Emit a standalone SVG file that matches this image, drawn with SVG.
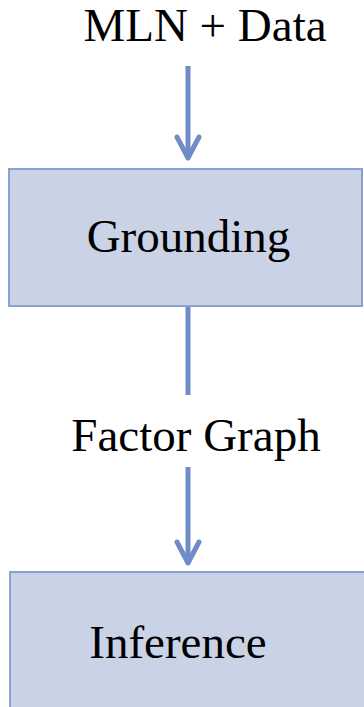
<svg xmlns="http://www.w3.org/2000/svg" width="364" height="707" viewBox="0 0 364 707">
  <style>
    .box { fill: #CAD2E6; stroke: #8AA2D2; stroke-width: 2; }
    .lbl { font-family: "Liberation Serif", "Times New Roman", serif; font-size: 47px; fill: #000; text-anchor: middle; }
    .conn { stroke: #6F8CC6; stroke-width: 5; fill: none; }
    .head { stroke: #6F8CC6; stroke-width: 5; fill: none; stroke-linecap: round; stroke-linejoin: round; }
  </style>
  <rect width="364" height="707" fill="#FFFFFF"/>
  <g id="connectors">
    <line class="conn" x1="188" y1="66" x2="188" y2="158"/>
    <polyline class="head" points="177,137 188,158 199,137"/>
    <line class="conn" x1="188" y1="307" x2="188" y2="395"/>
    <line class="conn" x1="188" y1="467" x2="188" y2="563"/>
    <polyline class="head" points="177,542 188,563 199,542"/>
  </g>
  <g id="mln-data">
    <text class="lbl" x="205" y="41">MLN + Data</text>
  </g>
  <g id="grounding">
    <rect class="box" x="9" y="169" width="353" height="137"/>
    <text class="lbl" x="188.5" y="252">Grounding</text>
  </g>
  <g id="factor-graph">
    <text class="lbl" x="196" y="451">Factor Graph</text>
  </g>
  <g id="inference">
    <rect class="box" x="10" y="572" width="362" height="150"/>
    <text class="lbl" x="178" y="658">Inference</text>
  </g>
</svg>
